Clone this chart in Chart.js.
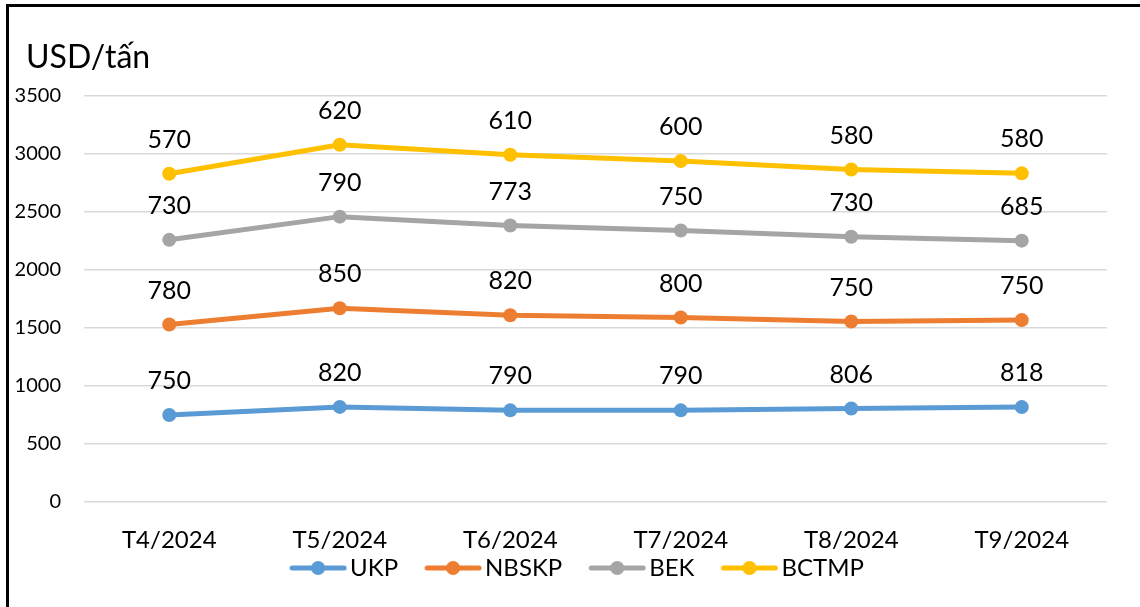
<!DOCTYPE html>
<html>
<head>
<meta charset="utf-8">
<script src="https://cdn.jsdelivr.net/npm/chart.js@4.4.1/dist/chart.umd.min.js"></script>
<style>
    html, body { margin: 0; padding: 0; background: #fff; }
    #wrap { position: relative; width: 1140px; height: 607px; }
</style>
</head>
<body>
<div id="wrap"><canvas id="price-chart" width="1140" height="607"></canvas></div>
<script>
const months = ["T4/2024", "T5/2024", "T6/2024", "T7/2024", "T8/2024", "T9/2024"];
const ukp = [750, 820, 790, 790, 806, 818];
const nbskp = [780, 850, 820, 800, 750, 750];
const bek = [730, 790, 773, 750, 730, 685];
const bctmp = [570, 620, 610, 600, 580, 580];
const yTicks = [0, 500, 1000, 1500, 2000, 2500, 3000, 3500];
const unitLabel = "USD/tấn";

const FONT = "Lato, 'Open Sans', sans-serif";

// Icono de la leyenda: linea con punto pegada a la derecha de la imagen;
// el resto es transparente y sirve de separacion entre elementos
const ICON_BOX = 71;
function legendIcon(color) {
    const c = document.createElement("canvas");
    c.width = ICON_BOX + 18;
    c.height = 16;
    const g = c.getContext("2d");
    const x0 = c.width - 58;
    g.strokeStyle = color;
    g.lineWidth = 5;
    g.lineCap = "round";
    g.beginPath();
    g.moveTo(x0 + 3, 8);
    g.lineTo(c.width - 3, 8);
    g.stroke();
    g.fillStyle = color;
    g.beginPath();
    g.arc(x0 + 29, 8, 7, 0, Math.PI * 2);
    g.fill();
    return c;
}

function serie(label, data, color) {
    return {
        label: label,
        data: data,
        borderColor: color,
        backgroundColor: color,
        borderWidth: 5,
        pointRadius: 7,
        pointHoverRadius: 7,
        pointBackgroundColor: color,
        pointBorderWidth: 0,
        tension: 0,
        fill: false,
    };
}

// Marco negro (solo izquierda y arriba se ven) y unidad
const framePlugin = {
    id: "frame",
    beforeUpdate(chart) {
        const lg = chart.legend;
        if (lg && !lg._patched) {
            const origFit = lg.fit.bind(lg);
            lg.fit = function () {
                origFit();
                this.height = 28;
            };
            const origDraw = lg._draw.bind(lg);
            lg._draw = function () {
                this.ctx.save();
                this.ctx.translate(12, 0);
                origDraw();
                this.ctx.restore();
            };
            lg._patched = true;
        }
    },
    beforeDraw(chart) {
        const ctx = chart.ctx;
        ctx.save();
        ctx.fillStyle = "#fff";
        ctx.fillRect(0, 0, chart.width, chart.height);
        ctx.fillStyle = "#000";
        ctx.fillRect(6, 4, 3, chart.height - 4);
        ctx.fillRect(6, 4, chart.width - 6, 3);
        ctx.font = "32px " + FONT;
        ctx.textBaseline = "middle";
        ctx.fillText(unitLabel, 26, 58);
        ctx.restore();
    },
};

// Etiquetas con el valor de cada serie encima del punto
const valueLabels = {
    id: "valueLabels",
    afterDatasetsDraw(chart) {
        const ctx = chart.ctx;
        ctx.save();
        ctx.font = "25px " + FONT;
        ctx.fillStyle = "#000";
        ctx.textAlign = "center";
        ctx.textBaseline = "middle";
        chart.data.datasets.forEach((ds, i) => {
            chart.getDatasetMeta(i).data.forEach((pt, j) => {
                ctx.fillText(String(ds.data[j]), pt.x, pt.y - 34);
            });
        });
        ctx.restore();
    },
};

const ctx = document.getElementById("price-chart").getContext("2d");
new Chart(ctx, {
    type: "line",
    data: {
        labels: months,
        datasets: [
            serie("UKP", ukp, "#5b9bd5"),
            serie("NBSKP", nbskp, "#ed7d31"),
            serie("BEK", bek, "#a5a5a5"),
            serie("BCTMP", bctmp, "#ffc000"),
        ],
    },
    options: {
        responsive: false,
        animation: false,
        layout: { padding: { left: 0, right: 33, top: 96, bottom: 27 } },
        scales: {
            x: {
                offset: true,
                grid: { display: false },
                border: { display: false },
                afterFit(scale) {
                    scale.height = 50;
                },
                ticks: {
                    color: "#000",
                    font: { family: FONT, size: 24 },
                    padding: 16,
                    maxRotation: 0,
                },
            },
            y: {
                stacked: true,
                min: 0,
                max: 3500,
                afterBuildTicks(scale) {
                    scale.ticks = yTicks.map((v) => ({ value: v }));
                },
                afterFit(scale) {
                    scale.width = 84;
                },
                grid: { color: "#d9d9d9", lineWidth: 1.5, drawTicks: false },
                border: { display: false },
                ticks: {
                    color: "#000",
                    font: { family: FONT, size: 20 },
                    padding: 23,
                    callback: (v) => String(v),
                },
            },
        },
        plugins: {
            tooltip: { enabled: false },
            legend: {
                position: "bottom",
                labels: {
                    color: "#000",
                    font: { family: FONT, size: 24 },
                    usePointStyle: true,
                    pointStyleWidth: ICON_BOX,
                    padding: 4,
                    generateLabels(chart) {
                        return chart.data.datasets.map((ds, i) => ({
                            text: ds.label,
                            fillStyle: ds.borderColor,
                            strokeStyle: ds.borderColor,
                            lineWidth: 0,
                            pointStyle: legendIcon(ds.borderColor),
                            fontColor: "#000",
                            hidden: false,
                            datasetIndex: i,
                        }));
                    },
                },
            },
        },
    },
    plugins: [framePlugin, valueLabels],
});
</script>
</body>
</html>
